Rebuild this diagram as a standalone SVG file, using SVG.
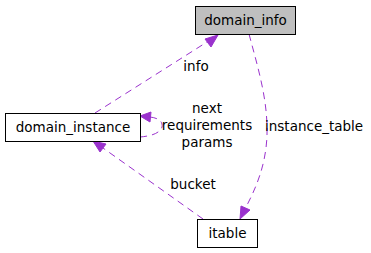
<svg xmlns="http://www.w3.org/2000/svg" width="371" height="253" viewBox="0 0 371 253">
<defs>
<style>
.box{fill:#ffffff;stroke:#000000;stroke-width:1}
.root{fill:#bfbfbf}
text{font-family:"DejaVu Sans",sans-serif;font-size:13.5px;fill:#000000}
.c{text-anchor:middle}
.edge{fill:none;stroke:#9a32cd;stroke-width:1;stroke-dasharray:7,5}
.ah{fill:#9a32cd;stroke:#9a32cd}
</style>
</defs>
<g id="connectors">
<g id="e_info">
<path class="edge" d="M95,113 L207,42"/>
<polygon class="ah" points="218,35 211,47 205,39"/>
<text x="196" y="71" class="c">info</text>
</g>
<g id="e_self">
<path class="edge" d="M140,137 C152,136 160,133 162,127 C163,121 158,118 150,117"/>
<polygon class="ah" points="140,116 151,112 150,122"/>
<text x="207" y="113" class="c">next</text>
<text x="207" y="130" class="c">requirements</text>
<text x="207" y="147" class="c">params</text>
</g>
<g id="e_instance_table">
<path class="edge" d="M249,34 C258,68 268,100 267,135 C266,165 256,188 246,207"/>
<polygon class="ah" points="240,219 241,206 250,210"/>
<text x="265" y="131">instance_table</text>
</g>
<g id="e_bucket">
<path class="edge" d="M203,219 L103,148"/>
<polygon class="ah" points="93,141 106,144 100,152"/>
<text x="193" y="189" class="c">bucket</text>
</g>
</g>
<g id="domain_info">
<rect class="box root" x="195.5" y="6.5" width="100" height="28"/>
<text x="245.5" y="25" class="c">domain_info</text>
</g>
<g id="domain_instance">
<rect class="box" x="5.5" y="113.5" width="135" height="28"/>
<text x="73" y="132" class="c">domain_instance</text>
</g>
<g id="itable">
<rect class="box" x="197.5" y="219.5" width="60" height="28"/>
<text x="227.5" y="238" class="c">itable</text>
</g>
</svg>
